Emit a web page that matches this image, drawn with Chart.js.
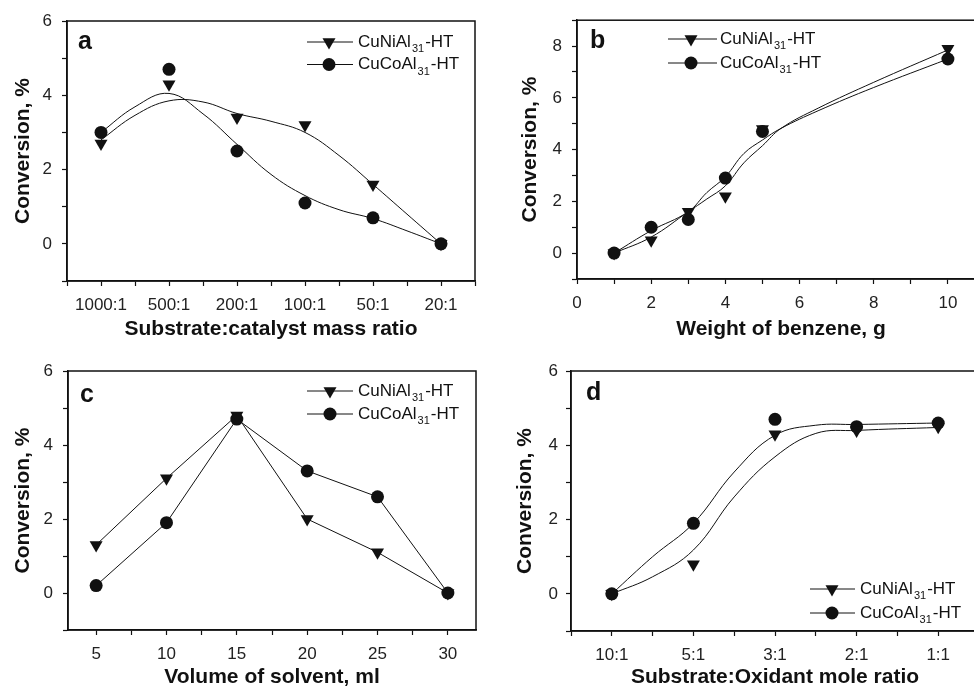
<!DOCTYPE html>
<html><head><meta charset="utf-8">
<script src="https://cdn.jsdelivr.net/npm/chart.js@4/dist/chart.umd.min.js"></script>
<style>
html,body{margin:0;padding:0;background:#fff;overflow:hidden;width:974px;height:690px;position:relative;}
canvas{position:absolute;}
</style></head><body>
<canvas id="ca" width="487" height="345" style="left:0;top:0"></canvas>
<canvas id="cb" width="520" height="345" style="left:487px;top:0"></canvas>
<canvas id="cc" width="487" height="345" style="left:0;top:345px"></canvas>
<canvas id="cd" width="520" height="345" style="left:487px;top:345px"></canvas>
<script>
// ---------- data ----------
const seriesBase = ['CuNiAl', 'CuCoAl'];
const seriesSub = '31';
const seriesSuffix = '-HT';

// panel a: substrate:catalyst mass ratio
const ratioLabelsA = ['1000:1', '500:1', '200:1', '100:1', '50:1', '20:1'];
const cuNiA = [2.7, 4.3, 3.4, 3.2, 1.6, 0];
const cuCoA = [3.0, 4.7, 2.5, 1.1, 0.7, 0];
const fitPosA = [0, 0.5, 1, 1.5, 2, 2.5, 3, 3.5, 4, 4.5, 5];
const cuNiFitA = [2.8, 3.46, 3.85, 3.82, 3.51, 3.3, 3.0, 2.38, 1.6, 0.8, 0];
const cuCoFitA = [3.0, 3.69, 4.05, 3.5, 2.68, 1.87, 1.3, 0.92, 0.68, 0.35, 0];

// panel b: weight of benzene
const benzeneWeight = [1, 2, 3, 4, 5, 10];
const cuNiB = [0, 0.5, 1.6, 2.2, 4.8, 7.9];
const cuCoB = [0, 1.0, 1.3, 2.9, 4.7, 7.5];
const fitPosB = [1, 2, 3, 3.5, 4, 4.5, 5, 5.5, 6.5, 8, 10];
const cuNiFitB = [0, 0.62, 1.6, 2.09, 2.6, 3.49, 4.15, 4.82, 5.6, 6.6, 7.85];
const cuCoFitB = [0, 0.87, 1.6, 2.34, 2.95, 3.85, 4.37, 4.82, 5.5, 6.4, 7.5];

// panel c: volume of solvent
const solventVolume = [5, 10, 15, 20, 25, 30];
const cuNiC = [1.3, 3.1, 4.8, 2.0, 1.1, 0];
const cuCoC = [0.2, 1.9, 4.7, 3.3, 2.6, 0];

// panel d: substrate:oxidant mole ratio
const ratioLabelsD = ['10:1', '5:1', '3:1', '2:1', '1:1'];
const cuNiD = [0, 0.8, 4.3, 4.4, 4.5];
const cuCoD = [0, 1.9, 4.7, 4.5, 4.6];
const fitPosD = [0, 0.5, 1, 1.5, 2, 2.5, 3, 4];
const cuNiFitD = [0, 0.46, 1.18, 2.61, 3.69, 4.32, 4.4, 4.48];
const cuCoFitD = [0, 1.0, 1.9, 3.28, 4.27, 4.54, 4.56, 4.6];

// ---------- helpers ----------
const FONT = "'Liberation Sans', Arial, Helvetica, sans-serif";
const INK = '#111';

function pts(xs, ys) { return xs.map((x, i) => ({x: x, y: ys[i]})); }
function range(a, b, s) { const r = []; for (let v = a; v <= b + 1e-9; v += s) r.push(+v.toFixed(4)); return r; }

const framePlugin = {
  id: 'frame',
  afterDraw(chart) {
    const {ctx, chartArea: a} = chart;
    ctx.save();
    ctx.strokeStyle = INK;
    ctx.lineWidth = 1.5;
    ctx.strokeRect(a.left, a.top, a.right - a.left, a.bottom - a.top);
    ctx.restore();
  }
};

const decorPlugin = {
  id: 'decor',
  afterDraw(chart, args, opts) {
    const ctx = chart.ctx;
    ctx.save();
    ctx.fillStyle = INK;
    ctx.font = 'bold 25px ' + FONT;
    ctx.textBaseline = 'middle';
    ctx.textAlign = 'left';
    ctx.fillText(opts.letter, opts.letterX, opts.letterY);
    const L = opts.legend;
    for (let i = 0; i < 2; i++) {
      const y = L.y + i * L.dy;
      ctx.strokeStyle = INK;
      ctx.lineWidth = 1;
      ctx.beginPath(); ctx.moveTo(L.x1, y); ctx.lineTo(L.x2, y); ctx.stroke();
      ctx.fillStyle = INK;
      ctx.beginPath();
      if (i === 0) {
        const r = 7.5;
        ctx.moveTo(L.mx - r * 0.866, y - r * 0.5);
        ctx.lineTo(L.mx + r * 0.866, y - r * 0.5);
        ctx.lineTo(L.mx, y + r);
        ctx.closePath();
      } else {
        ctx.arc(L.mx, y, 6.5, 0, Math.PI * 2);
      }
      ctx.fill();
      let x = L.tx;
      ctx.textAlign = 'left';
      ctx.textBaseline = 'middle';
      ctx.font = '17px ' + FONT;
      ctx.fillText(seriesBase[i], x, y);
      x += ctx.measureText(seriesBase[i]).width + 1;
      ctx.font = '11px ' + FONT;
      ctx.fillText(seriesSub, x, y + 7);
      x += ctx.measureText(seriesSub).width + 1;
      ctx.font = '17px ' + FONT;
      ctx.fillText(seriesSuffix, x, y);
    }
    ctx.restore();
  }
};

function makeChart(id, p) {
  const canvas = document.getElementById(id);
  const W = canvas.width, H = canvas.height;
  const A = p.area;
  const datasets = [];
  if (p.fitNi) {
    datasets.push({data: p.fitNi, showLine: true, borderColor: INK, borderWidth: 1, pointRadius: 0, tension: 0.4, fill: false});
    datasets.push({data: p.fitCo, showLine: true, borderColor: INK, borderWidth: 1, pointRadius: 0, tension: 0.4, fill: false});
  }
  datasets.push({data: p.ni, showLine: !!p.joinPoints, tension: 0, borderColor: INK, borderWidth: 1,
    pointStyle: 'triangle', rotation: 180, pointRadius: 7.5, backgroundColor: INK, pointBorderWidth: 0});
  datasets.push({data: p.co, showLine: !!p.joinPoints, tension: 0, borderColor: INK, borderWidth: 1,
    pointStyle: 'circle', pointRadius: 6.5, backgroundColor: INK, pointBorderWidth: 0});

  const axisCommon = {
    grid: {display: true, drawOnChartArea: false, drawTicks: true, tickLength: 5, color: INK, tickColor: INK, tickWidth: 1.2},
    border: {display: true, color: INK, width: 1.5},
  };

  return new Chart(canvas, {
    type: 'scatter',
    data: {datasets},
    options: {
      responsive: false, animation: false, devicePixelRatio: 1,
      layout: {padding: {left: 0, top: A.top, right: W - A.right, bottom: 0}},
      plugins: {legend: {display: false}, tooltip: {enabled: false},
        decor: {letter: p.letter, letterX: p.letterX, letterY: p.letterY, legend: p.legend}},
      scales: {
        x: Object.assign({}, axisCommon, {
          type: 'linear', position: 'bottom', min: p.xMin, max: p.xMax,
          afterBuildTicks: s => { s.ticks = p.xTicks.map(v => ({value: v})); },
          afterFit: s => { s.height = H - A.bottom; },
          ticks: {autoSkip: false, maxRotation: 0, minRotation: 0, padding: 9, color: '#222',
            font: {family: FONT, size: 17}, callback: v => p.xLabel(v)},
          title: {display: true, text: p.xTitle, color: INK, font: {family: FONT, size: 21, weight: 'bold'},
            padding: {top: 0, bottom: p.xTitlePad}}
        }),
        y: Object.assign({}, axisCommon, {
          type: 'linear', position: 'left', min: p.yMin, max: p.yMax,
          afterBuildTicks: s => { s.ticks = p.yTicks.map(v => ({value: v})); },
          afterFit: s => { s.width = A.left; },
          ticks: {autoSkip: false, padding: p.yPad || 10, color: '#222',
            font: {family: FONT, size: 17}, callback: v => (Math.abs(v % 2) < 1e-6 && v >= 0 ? String(v) : '')},
          title: {display: true, text: 'Conversion, %', color: INK, font: {family: FONT, size: 21, weight: 'bold'},
            padding: {top: p.yTitlePad, bottom: 0}}
        })
      }
    },
    plugins: [framePlugin, decorPlugin]
  });
}

const idxLabel = labels => v => (Math.abs(v - Math.round(v)) < 1e-6 && labels[Math.round(v)] !== undefined ? labels[Math.round(v)] : '');

makeChart('ca', {
  area: {left: 67, top: 21, right: 475, bottom: 281},
  xMin: -0.5, xMax: 5.5, xTicks: range(-0.5, 5.5, 0.5), xLabel: idxLabel(ratioLabelsA),
  xTitle: 'Substrate:catalyst mass ratio', xTitlePad: 3,
  yMin: -1, yMax: 6, yTicks: range(-1, 6, 1), yTitlePad: 11,
  ni: pts(ratioLabelsA.map((_, i) => i), cuNiA), co: pts(ratioLabelsA.map((_, i) => i), cuCoA),
  fitNi: pts(fitPosA, cuNiFitA), fitCo: pts(fitPosA, cuCoFitA),
  letter: 'a', letterX: 78, letterY: 42,
  legend: {x1: 307, x2: 353, mx: 329, tx: 358, y: 42, dy: 22.5}
});

makeChart('cb', {
  area: {left: 90, top: 16, right: 498, bottom: 279},
  xMin: 0, xMax: 11, xTicks: range(0, 11, 1), xLabel: v => (v % 2 === 0 && v <= 10 ? String(v) : ''),
  xTitle: 'Weight of benzene, g', xTitlePad: 3,
  yMin: -1, yMax: 9, yTicks: range(-1, 9, 1), yTitlePad: 31,
  ni: pts(benzeneWeight, cuNiB), co: pts(benzeneWeight, cuCoB),
  fitNi: pts(fitPosB, cuNiFitB), fitCo: pts(fitPosB, cuCoFitB),
  letter: 'b', letterX: 103, letterY: 41,
  legend: {x1: 181, x2: 230, mx: 204, tx: 233, y: 39, dy: 24}
});

makeChart('cc', {
  area: {left: 68, top: 26, right: 476, bottom: 285},
  xMin: 3, xMax: 32, xTicks: range(5, 30, 2.5), xLabel: v => (v % 5 === 0 ? String(v) : ''),
  xTitle: 'Volume of solvent, ml', xTitlePad: 0,
  yMin: -1, yMax: 6, yTicks: range(-1, 6, 1), yTitlePad: 11,
  ni: pts(solventVolume, cuNiC), co: pts(solventVolume, cuCoC), joinPoints: true,
  letter: 'c', letterX: 80, letterY: 50,
  legend: {x1: 307, x2: 353, mx: 330, tx: 358, y: 46, dy: 23}
});

makeChart('cd', {
  area: {left: 84, top: 26, right: 492, bottom: 286},
  xMin: -0.5, xMax: 4.5, xTicks: range(-0.5, 4.5, 0.5), xLabel: idxLabel(ratioLabelsD),
  xTitle: 'Substrate:Oxidant mole ratio', xTitlePad: 0,
  yMin: -1, yMax: 6, yTicks: range(-1, 6, 1), yTitlePad: 26, yPad: 8,
  ni: pts(ratioLabelsD.map((_, i) => i), cuNiD), co: pts(ratioLabelsD.map((_, i) => i), cuCoD),
  fitNi: pts(fitPosD, cuNiFitD), fitCo: pts(fitPosD, cuCoFitD),
  letter: 'd', letterX: 99, letterY: 48,
  legend: {x1: 323, x2: 368, mx: 345, tx: 373, y: 244, dy: 24}
});
</script>
</body></html>
